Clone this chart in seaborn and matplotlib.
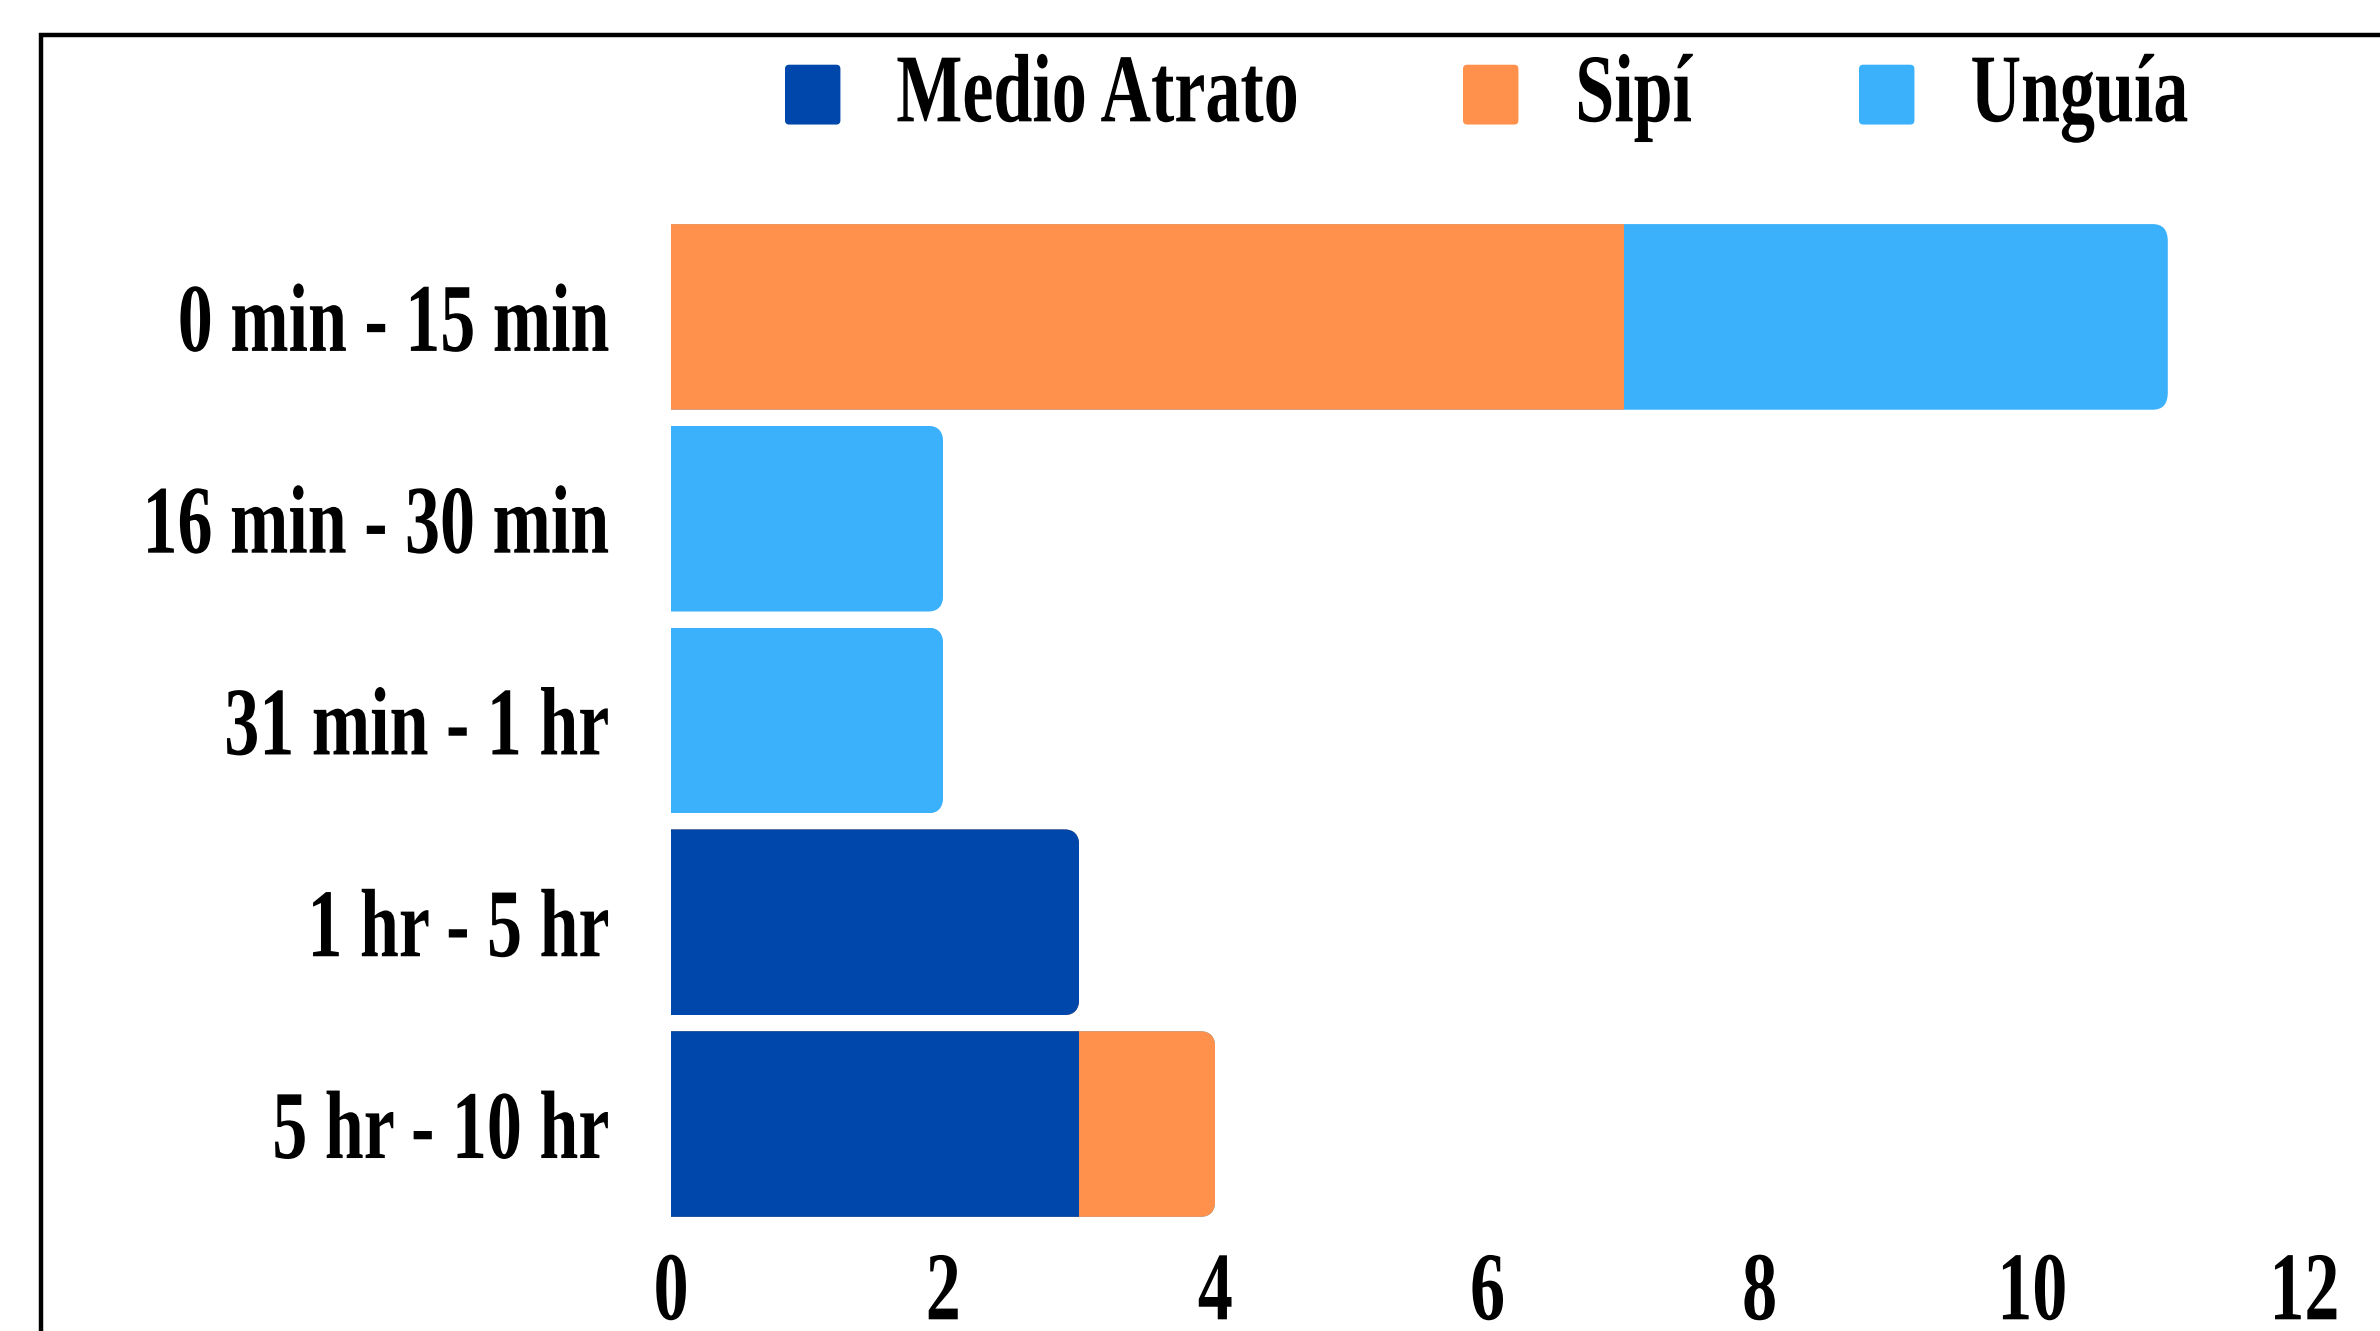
import numpy as np
import pandas as pd
import seaborn as sns
import matplotlib.pyplot as plt
from matplotlib.patches import Patch, Rectangle, FancyBboxPatch
from matplotlib.patheffects import AbstractPathEffect
from matplotlib.transforms import Affine2D
from matplotlib.legend_handler import HandlerPatch

categories = ["0 min - 15 min", "16 min - 30 min", "31 min - 1 hr", "1 hr - 5 hr", "5 hr - 10 hr"]
series_names = ["Medio Atrato", "Sipí", "Unguía"]
medio_atrato = [0, 0, 0, 3, 3]
sipi = [7, 0, 0, 0, 1]
unguia = [4, 2, 2, 0, 0]
x_ticks = [0, 2, 4, 6, 8, 10, 12]

colors = {"Medio Atrato": "#0047AB", "Sipí": "#FF914D", "Unguía": "#3BB0FB"}

df = pd.DataFrame({"time": categories, "Medio Atrato": medio_atrato,
                   "Sipí": sipi, "Unguía": unguia})
# running totals, bars get drawn back to front to make the stack
df["cum_medio"] = df["Medio Atrato"]
df["cum_sipi"] = df["cum_medio"] + df["Sipí"]
df["cum_unguia"] = df["cum_sipi"] + df["Unguía"]

SQUEEZE = 0.72  # the original text is horizontally condensed


class Narrow(AbstractPathEffect):
    """squash text horizontally around its left/right/centre edge"""
    def __init__(self, sx, anchor="center"):
        super().__init__()
        self.sx = sx
        self.anchor = anchor

    def draw_path(self, renderer, gc, tpath, affine, rgbFace=None):
        ext = tpath.get_extents(affine)
        if self.anchor == "left":
            x0 = ext.x0
        elif self.anchor == "right":
            x0 = ext.x1
        else:
            x0 = (ext.x0 + ext.x1) / 2
        squash = Affine2D().translate(-x0, 0).scale(self.sx, 1).translate(x0, 0)
        renderer.draw_path(gc, tpath, affine + squash, rgbFace)


def square_handle(legend, orig_handle, xdescent, ydescent, width, height, fontsize):
    # small rounded square, sitting a bit lower than the default handle
    return FancyBboxPatch((-xdescent, -ydescent - 5.5), width, height,
                          boxstyle="round,pad=0,rounding_size=3")


sns.set_style("white")
plt.rcParams["font.family"] = ["Liberation Serif", "DejaVu Serif"]
plt.rcParams["font.weight"] = "bold"
plt.rcParams["text.color"] = "black"
plt.rcParams["xtick.color"] = "black"
plt.rcParams["ytick.color"] = "black"

fig = plt.figure(figsize=(23.8, 13.31), dpi=100)
ax = fig.add_axes([0.282, 0.0797, 0.686, 0.758])

for col, name in [("cum_unguia", "Unguía"), ("cum_sipi", "Sipí"), ("cum_medio", "Medio Atrato")]:
    sns.barplot(data=df, x=col, y="time", orient="h", color=colors[name],
                saturation=1, width=0.92, linewidth=0, ax=ax)

# round the outer end of every stacked bar
clips = []
for i, total in enumerate(df["cum_unguia"]):
    c = FancyBboxPatch((-1, i - 0.46), total + 1, 0.92,
                       boxstyle="round,pad=0,rounding_size=0.11",
                       mutation_aspect=0.77, transform=ax.transData)
    clips.append(c)
for p in ax.patches:
    row = int(round(p.get_y() + p.get_height() / 2))
    p.set_clip_path(clips[row])

ax.set_xlim(0, 12)
ax.set_xticks(x_ticks)
ax.set_xlabel("")
ax.set_ylabel("")
for s in ax.spines.values():
    s.set_visible(False)
ax.tick_params(axis="both", length=0, labelsize=70, colors="black")
ax.tick_params(axis="y", pad=44)
ax.tick_params(axis="x", pad=19)
for lab in ax.get_xticklabels():
    lab.set_path_effects([Narrow(SQUEEZE, "center")])
for lab in ax.get_yticklabels():
    lab.set_path_effects([Narrow(SQUEEZE, "right")])

# legend entries, one per series across the top
legend_x = [785 / 2380, 1463 / 2380, 1859 / 2380]
for name, lx in zip(series_names, legend_x):
    leg = fig.legend(handles=[Patch(facecolor=colors[name], edgecolor="none", label=name)],
                     handler_map={Patch: HandlerPatch(patch_func=square_handle)},
                     loc="center left", bbox_to_anchor=(lx, 0.9265), frameon=False,
                     fontsize=70, handlelength=0.57, handleheight=0.57,
                     handletextpad=0.57, borderpad=0, borderaxespad=0)
    for t in leg.get_texts():
        t.set_path_effects([Narrow(SQUEEZE, "left")])

# outer frame, runs off the right and bottom edges
fig.add_artist(Rectangle((41 / 2380, -0.2), 1.5, 1.2 - 34.5 / 1331,
                         transform=fig.transFigure, fill=False,
                         edgecolor="black", linewidth=3.2, clip_on=False))

fig.savefig("out.png", dpi=100)
